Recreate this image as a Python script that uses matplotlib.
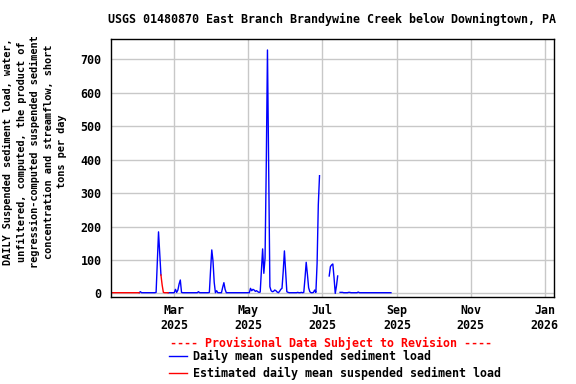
import numpy as np
import pandas as pd
import matplotlib
matplotlib.use('Agg')
import matplotlib.pyplot as plt
import matplotlib.dates as mdates

# daily values, index = day of year 2025 (Jan 1 = 0)
start = pd.Timestamp('2025-01-01')

# estimated (red) segments: (first day, values)
est_segments = [
    (6, [2] * 25),
    (48, [55, 25, 3, 2, 2, 2, 2]),
]

# daily mean (blue) segments: (first day, values)
daily_segments = [
    (30, [2, 5, 2, 2, 2, 2, 2, 2, 2, 2, 2, 2, 2, 2, 3, 90, 184, 118, 55]),
    (54, [2, 2, 2, 2, 2, 2, 12, 3, 10, 28, 40, 3, 2, 2, 2, 2, 2, 2, 2, 2,
          2, 2, 2, 2, 2, 5, 2, 2, 2, 2, 2, 2, 2, 2, 3, 70, 130, 97, 33, 2,
          8, 2, 2, 2, 2, 18, 32, 12, 2, 2, 2, 2, 2, 2, 2, 2, 2, 2, 2, 2,
          2, 2, 2, 2, 2, 2, 2, 2, 15, 8, 12, 10, 6, 8, 5, 3, 4, 68, 133, 60,
          105, 380, 728, 380, 20, 8, 5, 6, 10, 8, 4, 2, 6, 12, 15, 65, 127, 68,
          5, 3, 2, 2, 2, 2, 2, 2, 2, 3, 2, 2, 3, 2, 3, 45, 93, 57, 17, 5, 2,
          2, 3, 10, 3, 90, 265, 352]),
    (187, [52, 80, 85, 88, 47, 0, 22, 52]),
    (196, [3, 3, 3, 2, 2, 2, 2, 3, 3, 2, 2, 2, 2, 2, 2, 4, 2, 2, 2, 2,
           2, 2, 2, 2, 2, 2, 2, 2, 2, 2, 2, 2, 2, 2, 2, 2, 2, 2, 2, 2, 2, 2, 2]),
]


def to_series(segments):
    parts = []
    for first, vals in segments:
        idx = start + pd.to_timedelta(np.arange(first, first + len(vals)), unit='D')
        parts.append(pd.Series(vals, index=idx, dtype=float))
        # gap marker so segments are not joined
        parts.append(pd.Series([np.nan], index=[idx[-1] + pd.Timedelta(hours=12)]))
    return pd.concat(parts)


daily = to_series(daily_segments)
est = to_series(est_segments)

title = 'USGS 01480870 East Branch Brandywine Creek below Downingtown, PA'
ylabel = ('DAILY Suspended sediment load, water,\nunfiltered, computed, the product of\n'
          'regression-computed suspended sediment\nconcentration and streamflow, short\ntons per day')

font = {'family': 'DejaVu Sans Mono', 'weight': 'bold'}

fig = plt.figure(figsize=(5.76, 3.84), dpi=100)
ax = fig.add_axes([0.1922, 0.2273, 0.7696, 0.6704])

l1, = ax.plot(daily.index, daily.values, color='#0000ff', linewidth=1)
l2, = ax.plot(est.index, est.values, color='#ff0000', linewidth=1)

ax.set_xlim(pd.Timestamp('2025-01-07 12:00'), pd.Timestamp('2026-01-08 17:00'))
ax.set_ylim(-10, 760)
ax.set_yticks(range(0, 701, 100))
ax.xaxis.set_major_locator(mdates.MonthLocator(bymonth=[1, 3, 5, 7, 9, 11]))
ax.xaxis.set_major_formatter(mdates.DateFormatter('%b\n%Y'))
ax.grid(True, color='#c8c8c8', linewidth=1)
ax.set_axisbelow(True)
ax.tick_params(length=0, labelsize=8.4)
ax.tick_params(axis='y', pad=6.5)
ax.tick_params(axis='x', pad=5.5)
for lab in ax.get_xticklabels() + ax.get_yticklabels():
    lab.set_fontfamily('DejaVu Sans Mono')
    lab.set_fontweight('bold')
for sp in ax.spines.values():
    sp.set_linewidth(1)

fig.text(0.5765, 0.95, title, ha='center', va='center', fontsize=8.4, **font)
fig.text(0.061, 0.605, ylabel, ha='center', va='center', rotation=90,
         fontsize=7.4, linespacing=1.45, **font)

# provisional data banner and legend
fig.text(0.575, 0.106, '---- Provisional Data Subject to Revision ----',
         ha='center', va='center', fontsize=8.4, color='#ff0000', **font)
leg = fig.legend([l1, l2], ['Daily mean suspended sediment load',
                            'Estimated daily mean suspended sediment load'],
                 loc='upper center', bbox_to_anchor=(0.582, 0.088), frameon=False,
                 prop={'family': 'DejaVu Sans Mono', 'weight': 'bold', 'size': 8.4},
                 handlelength=1.55, handletextpad=0.5, labelspacing=0.3,
                 borderpad=0, borderaxespad=0)

fig.savefig('out.png', dpi=100)
